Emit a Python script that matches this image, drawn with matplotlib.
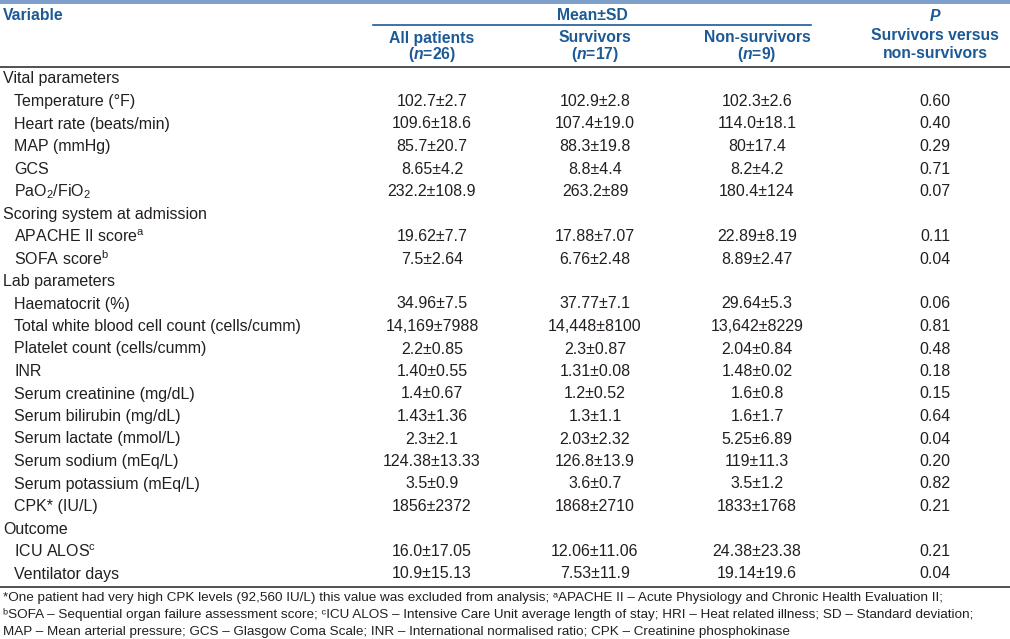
import matplotlib
matplotlib.use('Agg')
import matplotlib.pyplot as plt

plt.rcParams['font.family'] = ['Liberation Sans', 'DejaVu Sans']
plt.rcParams['mathtext.fontset'] = 'custom'
plt.rcParams['mathtext.rm'] = 'Liberation Sans'
plt.rcParams['mathtext.it'] = 'Liberation Sans:italic:bold'
plt.rcParams['mathtext.bf'] = 'Liberation Sans:bold'

# table content
col_heads = ['All patients', 'Survivors', 'Non-survivors']
col_ns = ['($\\mathit{n}$=26)', '($\\mathit{n}$=17)', '($\\mathit{n}$=9)']

# (label, is_section, all, survivors, non-survivors, p)
rows = [
    ('Vital parameters', True, '', '', '', ''),
    ('Temperature (°F)', False, '102.7±2.7', '102.9±2.8', '102.3±2.6', '0.60'),
    ('Heart rate (beats/min)', False, '109.6±18.6', '107.4±19.0', '114.0±18.1', '0.40'),
    ('MAP (mmHg)', False, '85.7±20.7', '88.3±19.8', '80±17.4', '0.29'),
    ('GCS', False, '8.65±4.2', '8.8±4.4', '8.2±4.2', '0.71'),
    ('PaO$_2$/FiO$_2$', False, '232.2±108.9', '263.2±89', '180.4±124', '0.07'),
    ('Scoring system at admission', True, '', '', '', ''),
    ('APACHE II score$^{\\rm a}$', False, '19.62±7.7', '17.88±7.07', '22.89±8.19', '0.11'),
    ('SOFA score$^{\\rm b}$', False, '7.5±2.64', '6.76±2.48', '8.89±2.47', '0.04'),
    ('Lab parameters', True, '', '', '', ''),
    ('Haematocrit (%)', False, '34.96±7.5', '37.77±7.1', '29.64±5.3', '0.06'),
    ('Total white blood cell count (cells/cumm)', False, '14,169±7988', '14,448±8100', '13,642±8229', '0.81'),
    ('Platelet count (cells/cumm)', False, '2.2±0.85', '2.3±0.87', '2.04±0.84', '0.48'),
    ('INR', False, '1.40±0.55', '1.31±0.08', '1.48±0.02', '0.18'),
    ('Serum creatinine (mg/dL)', False, '1.4±0.67', '1.2±0.52', '1.6±0.8', '0.15'),
    ('Serum bilirubin (mg/dL)', False, '1.43±1.36', '1.3±1.1', '1.6±1.7', '0.64'),
    ('Serum lactate (mmol/L)', False, '2.3±2.1', '2.03±2.32', '5.25±6.89', '0.04'),
    ('Serum sodium (mEq/L)', False, '124.38±13.33', '126.8±13.9', '119±11.3', '0.20'),
    ('Serum potassium (mEq/L)', False, '3.5±0.9', '3.6±0.7', '3.5±1.2', '0.82'),
    ('CPK* (IU/L)', False, '1856±2372', '1868±2710', '1833±1768', '0.21'),
    ('Outcome', True, '', '', '', ''),
    ('ICU ALOS$^{\\rm c}$', False, '16.0±17.05', '12.06±11.06', '24.38±23.38', '0.21'),
    ('Ventilator days', False, '10.9±15.13', '7.53±11.9', '19.14±19.6', '0.04'),
]

footnotes = [
    '*One patient had very high CPK levels (92,560 IU/L) this value was excluded from analysis; '
    'ᵃAPACHE II – Acute Physiology and Chronic Health Evaluation II;',
    'ᵇSOFA – Sequential organ failure assessment score; ᶜICU ALOS – Intensive Care '
    'Unit average length of stay; HRI – Heat related illness; SD – Standard deviation;',
    'MAP – Mean arterial pressure; GCS – Glasgow Coma Scale; INR – International normalised ratio; '
    'CPK – Creatinine phosphokinase',
]

head_col = '#1c5a96'
body_col = '#231f20'
fs_body, fs_head, fs_note = 11.5, 11.3, 9.7

fig = plt.figure(figsize=(10.10, 6.39), dpi=100)
ax = fig.add_axes([0, 0, 1, 1])
ax.set_xlim(0, 1010)
ax.set_ylim(639, 0)
ax.axis('off')

col_x = [432, 595, 757]
p_x = 935

# top band and rules
ax.axhspan(0, 3.5, color='#7f9fcb', lw=0)
ax.plot([373, 811], [25, 25], color=head_col, lw=1.2)
ax.plot([0, 1010], [67, 67], color='#333333', lw=1.2)
ax.plot([0, 1010], [587, 587], color='#333333', lw=1.2)

# header
hkw = dict(color=head_col, fontsize=fs_head, fontweight='bold', va='center')
ax.text(3, 15, 'Variable', ha='left', **hkw)
ax.text(592, 15, 'Mean±SD', ha='center', **hkw)
for x, h, n in zip(col_x, col_heads, col_ns):
    ax.text(x, 38, h, ha='center', **hkw)
    ax.text(x, 55, n, ha='center', **hkw)
ax.text(p_x, 16, '$\\mathit{P}$', ha='center', **hkw)
ax.text(p_x, 36, 'Survivors versus', ha='center', **hkw)
ax.text(p_x, 53, 'non-survivors', ha='center', **hkw)

# body
y0, dy = 79, 22.5
for i, (label, section, a, s, ns, p) in enumerate(rows):
    y = y0 + i * dy
    ax.text(3 if section else 14, y, label, ha='left', va='center',
            color=body_col, fontsize=fs_body)
    for x, v in zip(col_x + [p_x], [a, s, ns, p]):
        if v:
            ax.text(x, y, v, ha='center', va='center', color=body_col, fontsize=fs_body)

for j, f in enumerate(footnotes):
    ax.text(3, 601.5 + j * 16.8, f, ha='left', va='baseline', color=body_col, fontsize=fs_note)

fig.savefig('out.png', dpi=100)
